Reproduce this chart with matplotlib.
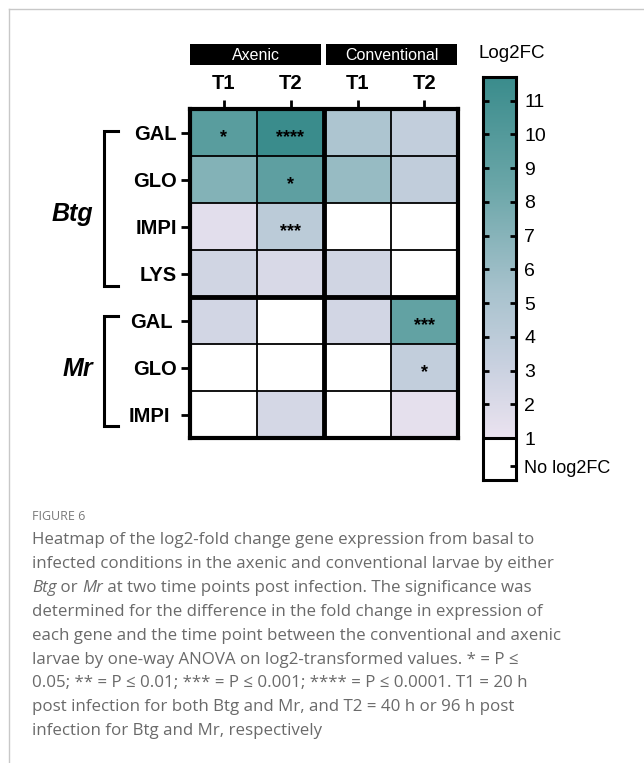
import numpy as np
import matplotlib
matplotlib.use('Agg')
import matplotlib.pyplot as plt
from matplotlib.colors import LinearSegmentedColormap
from matplotlib.patches import Rectangle

# ---- data ----
genes = ['GAL', 'GLO', 'IMPI', 'LYS', 'GAL', 'GLO', 'IMPI']
pathogens = ['Btg', 'Mr']
groups = ['Axenic', 'Conventional']
timepoints = ['T1', 'T2', 'T1', 'T2']

# columns: Axenic T1, Axenic T2, Conventional T1, Conventional T2 (nan = no log2FC)
nan = np.nan
log2fc = np.array([
    [9.6, 11.7, 5.0, 3.6],
    [7.2, 9.3, 6.2, 3.7],
    [1.6, 4.1, nan, nan],
    [2.7, 2.2, 2.7, nan],
    [2.6, nan, 2.6, 9.0],
    [nan, nan, nan, 3.6],
    [nan, 2.5, nan, 1.4],
])
stars = [
    ['*', '****', '', ''],
    ['', '*', '', ''],
    ['', '***', '', ''],
    ['', '', '', ''],
    ['', '', '', '***'],
    ['', '', '', '*'],
    ['', '', '', ''],
]
cbar_ticks = [1, 2, 3, 4, 5, 6, 7, 8, 9, 10, 11]
vmin, vmax = 1, 11.7

caption_lines = [
    [("Heatmap of the log2-fold change gene expression from basal to", 'normal')],
    [("infected conditions in the axenic and conventional larvae by either", 'normal')],
    [("Btg", 'italic'), (" or ", 'normal'), ("Mr", 'italic'),
     (" at two time points post infection. The significance was", 'normal')],
    [("determined for the difference in the fold change in expression of", 'normal')],
    [("each gene and the time point between the conventional and axenic", 'normal')],
    [("larvae by one-way ANOVA on log2-transformed values. * = P \u2264", 'normal')],
    [("0.05; ** = P \u2264 0.01; *** = P \u2264 0.001; **** = P \u2264 0.0001. T1 = 20 h", 'normal')],
    [("post infection for both Btg and Mr, and T2 = 40 h or 96 h post", 'normal')],
    [("infection for Btg and Mr, respectively", 'normal')],
]

# ---- figure ----
W, H = 644, 763
fig = plt.figure(figsize=(W / 100, H / 100), dpi=100)
LAB = 'Liberation Sans'


def box(l, t, r, b):
    return [l / W, 1 - b / H, (r - l) / W, (b - t) / H]


# overlay in pixel coordinates for annotations
ov = fig.add_axes([0, 0, 1, 1])
ov.set_xlim(0, W)
ov.set_ylim(H, 0)
ov.axis('off')

cmap = LinearSegmentedColormap.from_list(
    'fc', [(0.0, '#ebe3f0'), (0.2, '#c9d1e0'), (0.4, '#a9c3ce'),
           (0.7, '#6aa6a8'), (1.0, '#3a8c8c')])
cmap.set_bad('white')

# heatmap
ax = fig.add_axes(box(190, 109, 458, 438))
ax.pcolormesh(np.ma.masked_invalid(log2fc), cmap=cmap, vmin=vmin, vmax=vmax)
ax.set_xlim(0, 4)
ax.set_ylim(7, 0)
for i in range(1, 7):
    ax.axhline(i, color='black', lw=3.5 if i == 4 else 1.3)
for j in range(1, 4):
    ax.axvline(j, color='black', lw=3.5 if j == 2 else 1.3)
for s in ax.spines.values():
    s.set_linewidth(3)
for i in range(log2fc.shape[0]):
    for j in range(log2fc.shape[1]):
        if stars[i][j]:
            ax.text(j + 0.5, i + 0.6, stars[i][j], ha='center', va='center',
                    fontsize=13, fontweight='bold', family=LAB)

ax.set_yticks(np.arange(len(genes)) + 0.5, genes)
ax.xaxis.tick_top()
ax.set_xticks(np.arange(len(timepoints)) + 0.5, timepoints)
ax.tick_params(axis='y', length=6.5, width=2, pad=3)
ax.tick_params(axis='x', length=6.5, width=2, pad=5)
for lbl in ax.get_xticklabels() + ax.get_yticklabels():
    lbl.set_fontfamily(LAB)
    lbl.set_fontweight('bold')
    lbl.set_fontsize(14.5)
ax.yaxis.get_major_ticks()[4].set_pad(6)
ax.yaxis.get_major_ticks()[6].set_pad(7.5)

# group header boxes
for k, g in enumerate(groups):
    x0 = 190 + k * 136
    ov.add_patch(Rectangle((x0, 44), 131, 21, fc='black', ec='none'))
    ov.text(x0 + 65.5, 55, g, color='white', ha='center', va='center',
            fontsize=11.5, family=LAB)

# pathogen brackets
brackets = [(131, 286, 214), (316, 426, 369)]
for name, (top, bot, ymid) in zip(pathogens, brackets):
    ov.plot([118, 104, 104, 118], [top, top, bot, bot], color='black', lw=2.2,
            solid_joinstyle='miter')
    ov.text(93, ymid, name, style='italic', fontweight='bold', fontsize=18,
            family=LAB, va='center', ha='right')

# colour bar
cax = fig.add_axes(box(483, 77, 516, 480))
grad = np.linspace(vmin, vmax, 256)[:, None]
cax.imshow(grad, extent=[0, 1, vmin, vmax], origin='lower', aspect='auto',
           cmap=cmap, vmin=vmin, vmax=vmax)
cax.set_xlim(0, 1)
cax.set_ylim(1 - 42 / 33.74, vmax)
cax.axhline(1, color='black', lw=2.2)
cax.set_xticks([])
cax.set_yticks([0.17] + cbar_ticks, ['No log2FC'] + [str(t) for t in cbar_ticks])
cax.tick_params(axis='y', direction='in', left=True, right=True, labelleft=False,
                labelright=True, length=4, width=2, pad=6)
cax.yaxis.get_major_ticks()[0].tick1line.set_visible(False)
cax.yaxis.get_major_ticks()[1].tick1line.set_visible(False)
cax.yaxis.get_major_ticks()[1].tick2line.set_visible(False)
for k, lbl in enumerate(cax.get_yticklabels()):
    lbl.set_fontfamily(LAB)
    lbl.set_fontsize(13 if k == 0 else 14)
for s in cax.spines.values():
    s.set_linewidth(2.2)
ov.text(479, 53, 'Log2FC', fontsize=13.5, family=LAB, va='center', ha='left')

# frame lines
ov.plot([9, 9], [9, H], color='#c8c8c8', lw=1)
ov.plot([9, W], [9, 9], color='#c8c8c8', lw=1)

# caption
CAP = 'Open Sans'
ov.text(32, 516, 'FIGURE 6', color='#7a7a7a', fontsize=9, family=CAP, va='center')
renderer = fig.canvas.get_renderer()
inv = ov.transData.inverted()
for i, segs in enumerate(caption_lines):
    y = 540 + i * 23.9
    x = 32
    for txt, st in segs:
        t = ov.text(x, y, txt, color='#6a6a6a', fontsize=12.2, family=CAP,
                    style=st, va='center', ha='left')
        bb = t.get_window_extent(renderer)
        x = inv.transform((bb.x1, bb.y0))[0]

fig.savefig('out.png', dpi=100)
